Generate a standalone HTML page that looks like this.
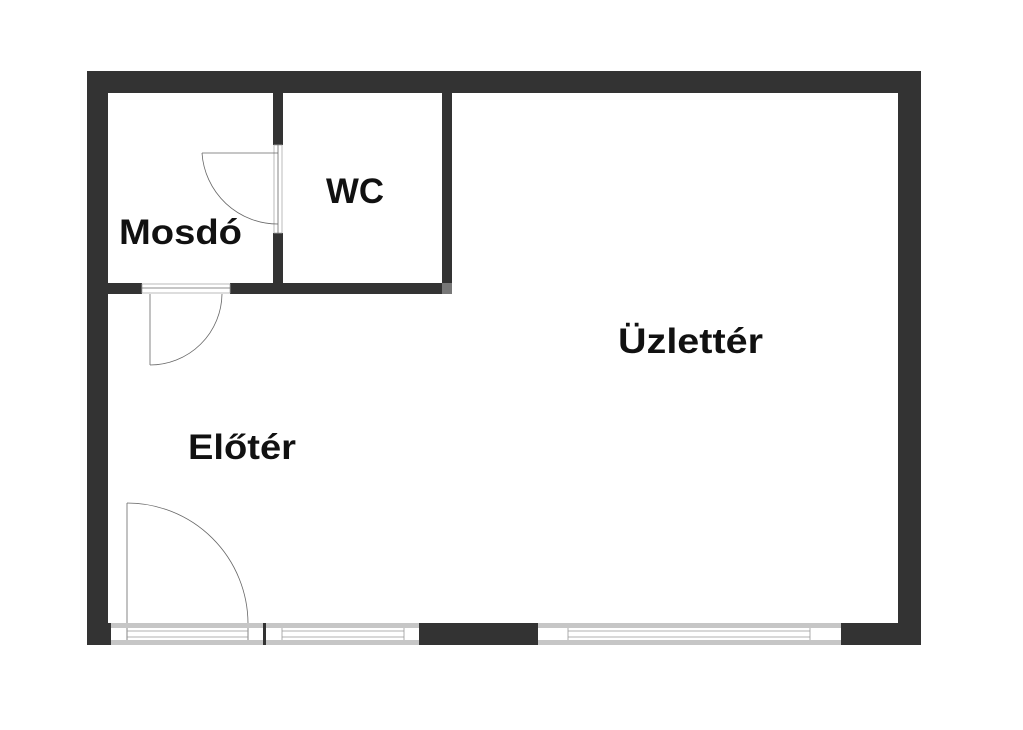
<!DOCTYPE html>
<html><head><meta charset="utf-8"><style>
html,body{margin:0;padding:0;background:#fff;}
svg{display:block}
text{font-family:"Liberation Sans",sans-serif;font-weight:bold;fill:#111;}
</style></head><body>
<svg width="1023" height="730" viewBox="0 0 1023 730" xmlns="http://www.w3.org/2000/svg">
<rect width="1023" height="730" fill="#fff"/>
<g fill="#333">
<rect x="87" y="71" width="834" height="22"/>
<rect x="87" y="71" width="21" height="574"/>
<rect x="898" y="71" width="23" height="574"/>
<rect x="87" y="623" width="24" height="22"/>
<rect x="419" y="623" width="119" height="22"/>
<rect x="841" y="623" width="80" height="22"/>
<rect x="263" y="623" width="3" height="22"/>
<rect x="273" y="93" width="10" height="52"/>
<rect x="273" y="233" width="10" height="61"/>
<rect x="442" y="93" width="10" height="190"/>
<rect x="108" y="283" width="34" height="11"/>
<rect x="230" y="283" width="212" height="11"/>
</g>
<rect x="442" y="283" width="10" height="11" fill="#777"/>
<g fill="none" stroke="#666" stroke-width="0.8">
<rect x="274" y="145" width="8" height="88" stroke="#aaa"/>
<line x1="278" y1="145" x2="278" y2="233"/>
<line x1="202" y1="153" x2="278" y2="153"/>
<path d="M202 153 A76 76 0 0 0 278 224"/>
<rect x="142" y="284" width="88" height="9" stroke="#aaa"/>
<line x1="142" y1="288" x2="230" y2="288"/>
<line x1="150" y1="294" x2="150" y2="365"/>
<path d="M150 365 A72 72 0 0 0 222 294"/>
<line x1="127" y1="503" x2="127" y2="645"/>
<path d="M127 503 A121 121 0 0 1 248 623"/>
<line x1="248" y1="623" x2="248" y2="645"/>
</g>
<g fill="#c6c6c6">
<rect x="111" y="623" width="152" height="5"/>
<rect x="111" y="640" width="152" height="5"/>
<rect x="266" y="623" width="153" height="5"/>
<rect x="266" y="640" width="153" height="5"/>
<rect x="538" y="623" width="303" height="5"/>
<rect x="538" y="640" width="303" height="5"/>
</g>
<g stroke="#999" stroke-width="0.8" fill="none">
<line x1="127" y1="631" x2="248" y2="631"/>
<line x1="127" y1="637" x2="248" y2="637"/>
<line x1="282" y1="631" x2="404" y2="631"/>
<line x1="282" y1="637" x2="404" y2="637"/>
<line x1="282" y1="628" x2="282" y2="640"/>
<line x1="404" y1="628" x2="404" y2="640"/>
<line x1="568" y1="631" x2="810" y2="631"/>
<line x1="568" y1="637" x2="810" y2="637"/>
<line x1="568" y1="628" x2="568" y2="640"/>
<line x1="810" y1="628" x2="810" y2="640"/>
</g>
<text x="119" y="244" font-size="35" textLength="123" lengthAdjust="spacingAndGlyphs">Mosdó</text>
<text x="326" y="203" font-size="35" textLength="58" lengthAdjust="spacingAndGlyphs">WC</text>
<text x="618" y="353" font-size="35" textLength="145" lengthAdjust="spacingAndGlyphs">Üzlettér</text>
<text x="188" y="459" font-size="35" textLength="108" lengthAdjust="spacingAndGlyphs">Előtér</text>
</svg>
</body></html>
